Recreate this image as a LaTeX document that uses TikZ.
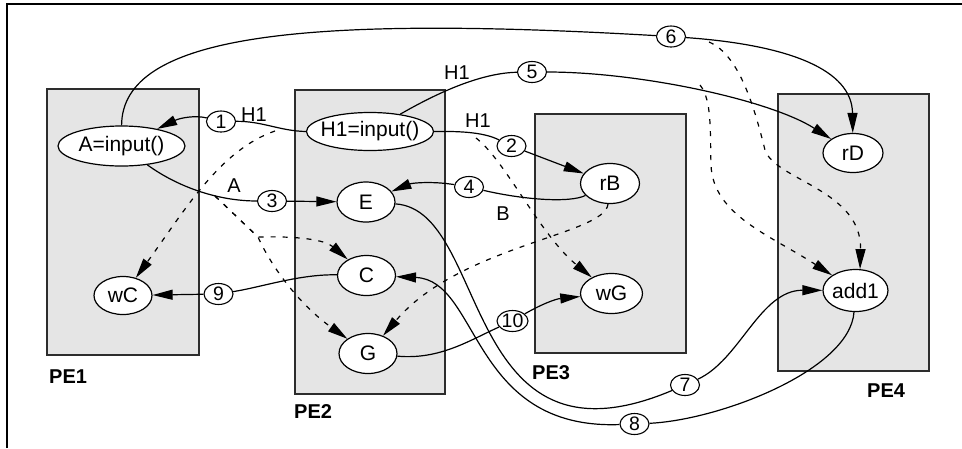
\documentclass[tikz,border=0pt]{standalone}
\usepackage{fontspec}
\setmainfont{Liberation Sans}
\usetikzlibrary{shapes.geometric,arrows.meta}
\definecolor{boxfill}{RGB}{229,229,229}
\definecolor{boxline}{RGB}{45,45,45}
\begin{document}
\begin{tikzpicture}[x=1pt,y=-1pt,
  pebox/.style={draw=boxline,fill=boxfill,line width=1.4pt},
  bignode/.style={ellipse,draw,fill=white,line width=1.2pt,inner xsep=-6pt,inner ysep=0pt,minimum height=40pt,font=\fontsize{21}{25}\selectfont},
  numnode/.style={ellipse,draw,fill=white,line width=1.1pt,inner sep=0pt,minimum width=29pt,minimum height=21pt,font=\fontsize{19.5}{22}\selectfont},
  edgetext/.style={inner sep=0pt,font=\fontsize{20}{24}\selectfont},
  petext/.style={anchor=west,inner sep=0pt,font=\fontsize{20}{24}\selectfont\bfseries},
  link/.style={line width=1.2pt},
  arr/.style={link,-{Triangle[length=20pt,width=10pt]}},
  dep/.style={arr,dash pattern=on 5pt off 7pt},
]
\useasboundingbox (0,0) rectangle (962,448);
\draw[line width=2pt] (6.5,448) -- (6.5,4) -- (962,4);

% processor boxes
\path[pebox] (47,89) rectangle (199,355);
\path[pebox] (295,90) rectangle (445,394);
\path[pebox] (535,114) rectangle (686,353);
\path[pebox] (778,94) rectangle (929,371);
\node[petext] (pe1) at (49,377) {PE1};
\node[petext] (pe2) at (294,412) {PE2};
\node[petext] (pe3) at (532,373) {PE3};
\node[petext] (pe4) at (867,391) {PE4};

% main nodes
\node[bignode,minimum width=127pt] (A) at (121.5,146) {A=input()};
\node[bignode,minimum width=127pt,minimum height=38pt] (H) at (370,131.5) {H1=input()};
\node[bignode,minimum width=58pt] (E) at (366,202) {E};
\node[bignode,minimum width=58pt] (C) at (366.5,275.5) {C};
\node[bignode,minimum width=58pt] (G) at (368,353.5) {G};
\node[bignode,minimum width=58pt,minimum height=38pt] (wC) at (123,295.5) {wC};
\node[bignode,minimum width=59pt] (rB) at (610,183.5) {rB};
\node[bignode,minimum width=62pt] (wG) at (611.5,293.5) {wG};
\node[bignode,minimum width=60pt,minimum height=39pt] (rD) at (853,153) {rD};
\node[bignode,minimum width=65pt,minimum height=42pt] (add) at (855.5,290.5) {add1};

% numbered edge labels
\node[numnode] (c1) at (221,121.5) {1};
\node[numnode] (c2) at (511.5,146) {2};
\node[numnode] (c3) at (272,201) {3};
\node[numnode] (c4) at (469,187) {4};
\node[numnode] (c5) at (532,72) {5};
\node[numnode] (c6) at (671,36.5) {6};
\node[numnode] (c7) at (685,385) {7};
\node[numnode] (c8) at (634.5,424) {8};
\node[numnode] (c9) at (218.5,294) {9};
\node[numnode,minimum width=31pt] (c10) at (512.5,321) {10};

% text labels
\node[edgetext] (t1) at (254,115) {H1};
\node[edgetext] (t2) at (457,73) {H1};
\node[edgetext] (t3) at (478,121) {H1};
\node[edgetext] (tA) at (234,186) {A};
\node[edgetext] (tB) at (503,214) {B};

% solid edges
\draw[link] (H.west) .. controls (280,131) and (262,121) .. (c1);
\draw[arr] (c1) .. controls (195,115) and (180,118) .. (A);
\draw[link] (H.east) .. controls (465,131) and (485,133) .. (c2);
\draw[arr] (c2) -- (rB);
\draw[link] (A) .. controls (175,185) and (215,201) .. (c3);
\draw[arr] (c3) -- (E);
\draw[link] (rB) .. controls (570,203) and (525,200) .. (c4);
\draw[arr] (c4) .. controls (432,181) and (412,183) .. (E);
\draw[link] (H) .. controls (425,100) and (475,73) .. (c5);
\draw[arr] (c5) .. controls (640,72) and (770,100) .. (rD);
\draw[link] (A) .. controls (122,35) and (300,15) .. (c6);
\draw[arr] (c6) .. controls (790,45) and (852,70) .. (rD);
\draw[link] (E) .. controls (490,210) and (460,480) .. (c7);
\draw[arr] (c7) .. controls (740,360) and (760,290) .. (add);
\draw[link] (add) .. controls (850,370) and (720,420) .. (c8);
\draw[arr] (c8) .. controls (470,430) and (480,280) .. (C);
\draw[link] (C) .. controls (300,274) and (262,287) .. (c9);
\draw[arr] (c9) -- (wC);
\draw[link] (G) .. controls (440,360) and (470,340) .. (c10);
\draw[arr] (c10) .. controls (540,305) and (555,299) .. (wG);

% dashed dependencies
\coordinate (d1s) at (275,131);
\draw[dep] (d1s) .. controls (220,150) and (185,210) .. (wC);
\coordinate (d2s) at (215,196);
\coordinate (d2m) at (258,237);
\draw[dep] (d2s) -- (d2m) .. controls (300,236) and (325,240) .. (C);
\draw[dep] (d2s) -- (d2m) .. controls (272,268) and (300,305) .. (G);
\coordinate (d3s) at (476,138);
\draw[dep] (d3s) .. controls (505,160) and (540,235) .. (wG);
\draw[dep] (rB) .. controls (605,235) and (460,245) .. (G);
\coordinate (d5s) at (700,85);
\draw[dep] (d5s) .. controls (712,100) and (710,130) .. (711,165) .. controls (713,215) and (770,235) .. (add);
\coordinate (d6s) at (709,42);
\draw[dep] (d6s) .. controls (740,55) and (755,110) .. (765,150) .. controls (775,180) and (862,190) .. (add.78);
\end{tikzpicture}
\end{document}
